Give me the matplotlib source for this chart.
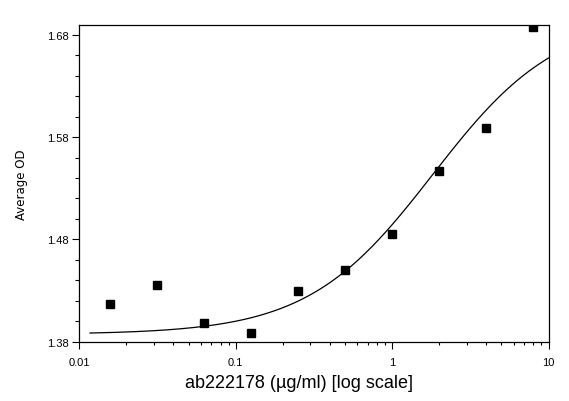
#!/usr/bin/python

"""
Dose response of ab222178: average OD against concentration, with the 4PL fit.
"""

import numpy as np
import matplotlib
matplotlib.use('Agg')
import matplotlib.pyplot as plt
from matplotlib.ticker import FixedLocator, LogLocator, NullFormatter

# constants
CONC = [0.015625, 0.03125, 0.0625, 0.125, 0.25, 0.5, 1, 2, 4, 8]  # ug/ml
OD = [1.417, 1.435, 1.398, 1.388, 1.429, 1.450, 1.485, 1.547, 1.589, 1.688]

# 4PL fit parameters
FIT_BOTTOM = 1.387
FIT_TOP = 1.700
FIT_EC50 = 1.82
FIT_HILL = 1.086
FIT_RANGE = [0.0117, 10]

X_TICKS = [0.01, 0.1, 1, 10]
X_TICK_LABELS = ['0.01', '0.1', '1', '10']
Y_TICKS = [1.38, 1.48, 1.58, 1.68]
Y_TICK_LABELS = ['1.38', '1.48', '1.58', '1.68']

XLABEL = 'ab222178 (\u00b5g/ml) [log scale]'
YLABEL = 'Average OD'


def four_pl(x, bottom, top, ec50, hill):
    "Four parameter logistic curve."
    return top + (bottom - top) / (1 + (x / ec50) ** hill)


def main():
    plt.rcParams['font.family'] = ['Liberation Sans', 'DejaVu Sans']

    fig = plt.figure(figsize=(5.69, 4.02), dpi=100)
    ax = fig.add_axes([0.1394, 0.148, 0.8246, 0.7873])

    # fitted curve
    xs = np.logspace(np.log10(FIT_RANGE[0]), np.log10(FIT_RANGE[1]), 400)
    ax.plot(xs, four_pl(xs, FIT_BOTTOM, FIT_TOP, FIT_EC50, FIT_HILL),
            color='black', lw=0.9, zorder=2)

    # measured points
    ax.plot(CONC, OD, linestyle='none', marker='s', markersize=5.2,
            color='black', zorder=3)

    ax.set_xscale('log')
    ax.set_xlim(0.01, 10)
    ax.set_ylim(1.38, 1.6898)

    ax.xaxis.set_major_locator(FixedLocator(X_TICKS))
    ax.set_xticklabels(X_TICK_LABELS)
    ax.xaxis.set_minor_locator(LogLocator(base=10, subs=np.arange(2, 10)))
    ax.xaxis.set_minor_formatter(NullFormatter())

    ax.set_yticks(Y_TICKS)
    ax.set_yticklabels(Y_TICK_LABELS)
    ax.yaxis.set_minor_locator(FixedLocator(np.arange(1.40, 1.68, 0.02)))

    ax.tick_params(axis='x', which='major', direction='out', length=5,
                   width=0.8, pad=6.5, labelsize=8)
    ax.tick_params(axis='x', which='minor', direction='out', length=2.5,
                   width=0.8)
    ax.tick_params(axis='y', which='major', direction='out', length=5,
                   width=0.8, pad=2.5, labelsize=8)
    ax.tick_params(axis='y', which='minor', direction='out', length=3,
                   width=0.8)

    for spine in ax.spines.values():
        spine.set_linewidth(0.9)
        spine.set_color('black')

    ax.set_xlabel(XLABEL, fontsize=13, va='center')
    ax.xaxis.set_label_coords(0.4676, -0.128)
    ax.set_ylabel(YLABEL, fontsize=8.5, family='DejaVu Sans', va='center')
    ax.yaxis.set_label_coords(-0.1235, 0.5)

    fig.savefig('out.png', dpi=100, facecolor='white')


if __name__ == "__main__":
    main()
